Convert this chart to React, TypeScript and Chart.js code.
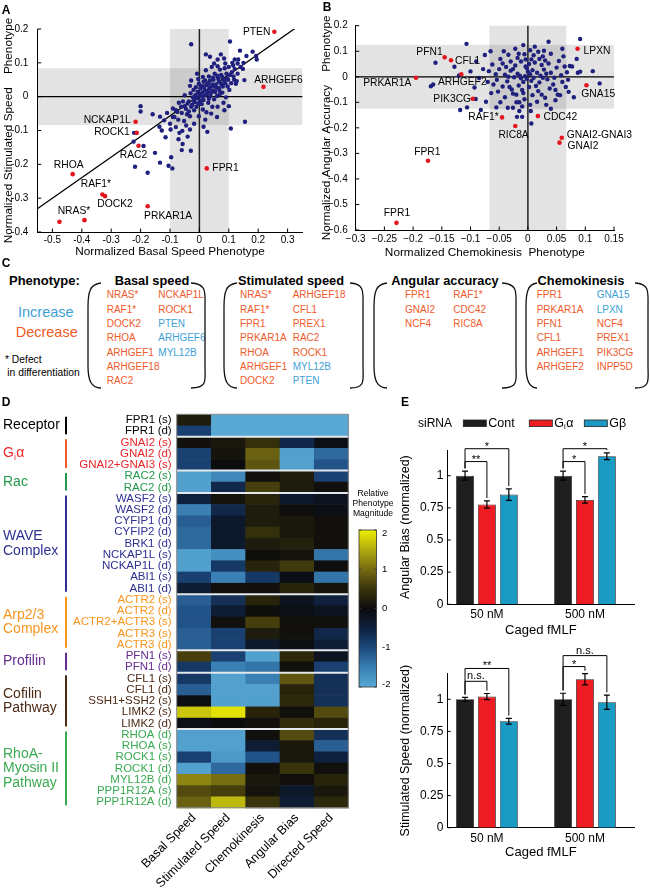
import React, { useEffect, useRef } from "react";
import { Chart, registerables } from "chart.js";

Chart.register(...registerables);
const FONT = "'Liberation Sans', Arial, Helvetica, sans-serif";
Chart.defaults.font.family = FONT;
Chart.defaults.color = "#000";

/* ====================== DATA ====================== */
// Panel A
const aXRange = [-0.55, 0.35];
const aYRange = [-0.4, 0.2];
const aXTicks = [-0.5, -0.4, -0.3, -0.2, -0.1, 0, 0.1, 0.2, 0.3];
const aYTicks = [-0.4, -0.3, -0.2, -0.1, 0, 0.1, 0.2];
const aBandX = 0.1;
const aBandY = 0.084;
const aFitSlope = 0.608;
const aFitIntercept = 0.004;
const aRedNames = ["PTEN", "ARHGEF6", "NCKAP1L", "ROCK1", "RAC2", "FPR1", "RHOA", "RAF1*", "DOCK2", "PRKAR1A", "NRAS*", ""];
const aRedX = [0.255, 0.218, -0.217, -0.213, -0.207, 0.025, -0.431, -0.33, -0.321, -0.176, -0.391, -0.476];
const aRedY = [0.192, 0.029, -0.074, -0.107, -0.145, -0.212, -0.229, -0.289, -0.294, -0.324, -0.365, -0.37];
const aBlue = [
  [0.0, 0.005], [0.01, 0.012], [-0.008, -0.004], [0.018, 0.02], [0.026, 0.008], [0.014, -0.01], [0.004, 0.024], [-0.018, -0.012], [0.008, -0.022], [0.036, 0.028],
  [0.046, 0.018], [0.03, 0.04], [0.056, 0.036], [0.048, 0.05], [0.066, 0.046], [0.078, 0.058], [0.058, 0.026], [0.038, 0.002], [0.05, -0.008], [0.068, 0.02],
  [0.088, 0.04], [0.098, 0.05], [0.08, 0.03], [0.02, 0.048], [-0.002, 0.038], [-0.012, 0.028], [-0.03, 0.01], [-0.04, -0.02], [-0.028, -0.03], [-0.018, -0.04],
  [-0.05, -0.028], [-0.06, -0.048], [-0.042, -0.052], [-0.01, -0.03], [0.012, -0.038], [0.03, -0.018], [0.06, 0.002], [0.078, 0.012], [0.092, 0.068], [0.11, 0.072],
  [0.12, 0.082], [0.1, 0.088], [0.07, 0.08], [0.052, 0.068], [0.032, 0.06], [0.012, 0.058], [-0.02, 0.02], [-0.032, 0.032], [-0.05, 0.004], [-0.07, -0.018],
  [-0.08, -0.04], [-0.09, -0.06], [-0.072, -0.068], [-0.052, -0.072], [-0.032, -0.058], [-0.002, -0.058], [0.02, -0.068], [0.04, -0.05], [0.062, -0.03], [0.082, -0.018],
  [0.102, 0.02], [0.118, 0.05], [0.13, 0.068], [0.14, 0.088], [0.112, 0.1], [0.088, 0.098], [0.062, 0.09], [0.042, 0.088], [0.022, 0.078], [-0.008, 0.068],
  [-0.028, 0.048], [0.15, 0.1], [0.132, 0.11], [0.16, 0.12], [0.086, 0.084], [0.074, 0.064], [0.064, 0.054], [0.044, 0.036], [0.034, 0.024], [0.024, 0.034],
  [0.014, 0.044], [-0.006, 0.014], [-0.016, -0.016], [-0.024, -0.024], [-0.036, -0.014], [-0.046, -0.036], [0.054, 0.014], [0.066, 0.026], [0.094, 0.054], [0.104, 0.064],
  [0.076, 0.036], [0.006, 0.032], [-0.004, 0.052], [0.016, 0.03], [0.028, 0.016], [0.04, 0.012], [0.05, 0.03], [0.06, 0.062], [0.072, 0.04], [0.084, 0.048],
  [0.002, -0.012], [-0.014, 0.004], [-0.022, -0.002], [0.01, 0.0], [0.02, 0.004], [-0.004, -0.02], [0.032, -0.006], [0.044, -0.03], [0.024, -0.046], [-0.036, -0.044],
  [-0.062, -0.03], [-0.056, -0.014], [0.096, 0.03], [0.108, 0.04], [0.116, 0.06], [0.124, 0.038], [0.07, 0.008], [0.09, -0.002], [0.046, 0.056], [0.036, 0.048],
  [-0.028, 0.155], [0.022, 0.125], [0.036, 0.118], [0.104, 0.163], [0.138, 0.136], [0.181, 0.133], [0.193, 0.12], [0.195, 0.11], [0.073, 0.125], [0.084, 0.113],
  [0.153, 0.049], [0.127, 0.046], [0.155, -0.074], [0.107, -0.094], [0.014, -0.089], [0.027, -0.104], [-0.032, -0.097], [-0.058, -0.101], [-0.068, -0.107], [-0.098, -0.097],
  [-0.2, -0.028], [-0.2, -0.044], [-0.159, -0.052], [-0.134, -0.059], [-0.136, -0.089], [-0.222, -0.107], [-0.224, -0.133], [-0.19, -0.146], [-0.151, -0.166], [-0.134, -0.195],
  [-0.219, -0.207], [-0.176, -0.225], [-0.105, -0.204], [-0.092, -0.212], [-0.096, -0.179], [-0.071, -0.126], [-0.057, -0.14], [-0.06, -0.158], [-0.029, -0.16], [-0.12, -0.07],
  [-0.11, -0.048], [-0.1, -0.08], [-0.085, -0.06], [-0.09, -0.035], [-0.075, -0.045], [-0.128, -0.1], [-0.115, -0.12], [-0.08, -0.09], [-0.045, -0.085], [-0.04, -0.118],
  [-0.018, -0.08], [0.06, -0.06], [0.085, -0.04], [0.1, -0.028], [0.05, 0.098], [0.062, 0.11], [0.115, 0.092], [0.13, 0.098], [0.148, 0.082], [0.12, 0.11],
];

// Panel B
const bXRange = [-0.3, 0.15];
const bYRange = [-0.6, 0.2];
const bXTicks = [-0.3, -0.25, -0.2, -0.15, -0.1, -0.05, 0, 0.05, 0.1, 0.15];
const bYTicks = [-0.6, -0.5, -0.4, -0.3, -0.2, -0.1, 0, 0.1, 0.2];
const bBandX = 0.067;
const bBandY = 0.125;
const bRedNames = ["LPXN", "PFN1", "CFL1", "ARHGEF2", "PRKAR1A", "PIK3CG", "GNA15", "RAF1*", "CDC42", "RIC8A", "GNAI2-GNAI3", "GNAI2", "FPR1", "FPR1"];
const bRedX = [0.0865, -0.145, -0.134, -0.116, -0.195, -0.096, 0.102, -0.045, 0.0174, -0.022, 0.059, 0.055, -0.174, -0.229];
const bRedY = [0.11, 0.076, 0.065, 0.01, -0.004, -0.086, -0.033, -0.159, -0.154, -0.193, -0.239, -0.258, -0.329, -0.572];
const bBlue = [
  [-0.005, 0.002], [0.004, 0.01], [-0.012, -0.006], [0.01, -0.004], [0.0, 0.02], [-0.018, 0.012], [0.016, 0.016], [-0.008, -0.02], [0.006, -0.016], [-0.024, -0.002],
  [0.022, 0.004], [-0.002, 0.034], [-0.03, 0.024], [0.028, 0.028], [-0.016, -0.034], [0.014, -0.036], [-0.036, -0.018], [0.034, -0.01], [0.002, 0.05], [-0.022, 0.044],
  [0.024, 0.046], [-0.04, 0.008], [0.04, 0.016], [-0.01, -0.052], [0.018, -0.056], [-0.044, -0.038], [0.044, -0.03], [-0.004, 0.068], [-0.03, 0.06], [0.03, 0.064],
  [-0.05, 0.03], [0.05, 0.036], [-0.026, -0.066], [0.008, -0.072], [-0.052, -0.058], [0.048, -0.052], [0.01, 0.084], [-0.016, 0.09], [0.026, 0.08], [-0.056, 0.01],
  [0.058, 0.006], [-0.006, -0.088], [0.03, -0.082], [-0.04, -0.08], [0.06, -0.02], [0.004, 0.104], [-0.022, 0.11], [0.018, 0.098], [-0.034, 0.086], [0.04, 0.09],
  [-0.048, 0.07], [0.054, 0.062], [-0.06, -0.03], [0.066, -0.04], [-0.02, -0.1], [0.016, -0.098], [-0.062, 0.048], [0.064, 0.04], [-0.008, 0.124], [0.012, 0.118],
  [-0.014, 0.004], [-0.002, -0.008], [0.008, 0.026], [-0.026, 0.03], [0.02, -0.022], [-0.032, -0.04], [0.036, 0.052], [-0.044, 0.052], [0.046, -0.004], [-0.054, -0.012],
  [0.002, -0.04], [-0.012, 0.06], [0.012, 0.056], [-0.02, -0.07], [0.024, -0.07], [0.032, 0.012], [-0.038, 0.038], [0.052, -0.07], [-0.064, -0.064], [0.068, 0.018],
  [-0.018, 0.074], [0.02, 0.07], [-0.028, -0.05], [0.038, -0.046], [-0.006, 0.088], [0.028, 0.102], [-0.042, 0.1], [0.062, 0.08], [-0.068, 0.022], [0.07, -0.012],
  [-0.01, -0.116], [0.032, -0.11], [-0.048, -0.1], [0.048, -0.092], [0.004, -0.11], [-0.034, 0.0], [0.026, -0.004], [-0.004, 0.04], [0.006, 0.068], [-0.008, -0.064],
  [-0.107, 0.129], [-0.161, 0.055], [-0.128, 0.039], [-0.1, 0.021], [-0.078, 0.03], [-0.093, -0.042], [-0.169, -0.037], [-0.165, -0.03], [-0.118, -0.13], [-0.106, -0.12],
  [-0.082, -0.13], [-0.073, -0.098], [-0.091, -0.087], [-0.035, -0.121], [-0.026, -0.121], [-0.015, -0.1], [-0.019, -0.157], [-0.01, -0.157], [-0.015, -0.134], [0.005, -0.134],
  [0.006, -0.183], [0.036, 0.137], [0.091, 0.148], [0.073, 0.042], [0.087, 0.016], [0.091, 0.02], [0.113, 0.022], [0.125, -0.026], [0.071, -0.059], [0.056, -0.072],
  [-0.09, 0.06], [-0.075, 0.085], [-0.085, -0.005], [-0.07, -0.02], [-0.12, 0.005], [0.08, -0.08], [0.06, 0.11], [0.085, 0.07], [-0.065, 0.1], [-0.055, -0.12],
  [0.04, -0.125], [0.077, 0.04],
];

// Panel C
const cHeaders = ["Basal speed", "Stimulated speed", "Angular accuracy", "Chemokinesis"];
const cBasal1 = ["NRAS*", "RAF1*", "DOCK2", "RHOA", "ARHGEF1", "ARHGEF18", "RAC2"];
const cBasal2 = ["NCKAP1L", "ROCK1", "PTEN", "ARHGEF6", "MYL12B"];
const cStim1 = ["NRAS*", "RAF1*", "FPR1", "PRKAR1A", "RHOA", "ARHGEF1", "DOCK2"];
const cStim2 = ["ARHGEF18", "CFL1", "PREX1", "RAC2", "ROCK1", "MYL12B", "PTEN"];
const cAng1 = ["FPR1", "GNAI2", "NCF4"];
const cAng2 = ["RAF1*", "CDC42", "RIC8A"];
const cChemo1 = ["FPR1", "PRKAR1A", "PFN1", "CFL1", "ARHGEF1", "ARHGEF2"];
const cChemo2 = ["GNA15", "LPXN", "NCF4", "PREX1", "PIK3CG", "INPP5D"];
const cBasalUp = ["PTEN", "ARHGEF6", "MYL12B"];
const cStimUp = ["MYL12B", "PTEN"];
const cAngUp: string[] = [];
const cChemoUp = ["GNA15", "LPXN"];

// Panel D
const heatCols = ["Basal Speed", "Stimulated Speed", "Chemokinesis", "Angular Bias", "Directed Speed"];
const heatRows = ["FPR1 (s)", "FPR1 (d)", "GNAI2 (s)", "GNAI2 (d)", "GNAI2+GNAI3 (s)", "RAC2 (s)", "RAC2 (d)", "WASF2 (s)", "WASF2 (d)", "CYFIP1 (d)", "CYFIP2 (d)", "BRK1 (d)", "NCKAP1L (s)", "NCKAP1L (d)", "ABI1 (s)", "ABI1 (d)", "ACTR2 (s)", "ACTR2 (d)", "ACTR2+ACTR3 (s)", "ACTR3 (s)", "ACTR3 (d)", "PFN1 (s)", "PFN1 (d)", "CFL1 (s)", "CFL1 (d)", "SSH1+SSH2 (s)", "LIMK2 (s)", "LIMK2 (d)", "RHOA (d)", "RHOA (s)", "ROCK1 (s)", "ROCK1 (d)", "MYL12B (d)", "PPP1R12A (s)", "PPP1R12A (d)"];
const heatBasal = [0.2, -0.9, 0.05, -0.9, -0.9, -1.9, -1.9, -0.5, -1.5, -1.2, -1.3, -1.3, -1.9, -1.9, -0.9, -0.4, -1.2, -1.1, -1.1, -1.2, -1.2, 0.6, -0.8, -0.8, -1.2, -0.05, 1.7, -0.1, -1.9, -1.9, -0.9, -1.9, 1.2, 0.7, 0.9];
const heatStim = [-2, -2, 0.15, 0.1, 0, -1.6, -0.6, 0.1, -0.6, -0.3, -0.3, -0.3, -1.7, -0.8, -1.5, 0.05, -0.7, -0.4, 0.05, -0.9, -0.9, -0.9, -1.5, -1.9, -1.9, -1.9, 1.9, 0, -1.9, -1.9, -1.8, -1.3, 1.0, 0.6, 1.6];
const heatChemo = [-2, -2, 0.45, 0.9, 0.8, 0.05, 0.6, 0.3, 0.2, 0.2, 0.45, 0.2, 0.02, 0.3, -0.8, 0.05, 0.3, 0.02, 0.6, 0.2, -0.3, -1.9, -1.4, -1.5, -1.9, -1.9, 0.3, 0.05, 0.05, -0.4, -1.1, 0.05, 0.15, 0.1, 0.5];
const heatAngular = [-2, -2, -0.6, -1.9, -1.9, 0.2, 0.2, -0.3, 0.02, 0.15, 0.15, 0.25, 0.1, 0.55, -0.1, 0.3, -0.2, -0.1, 0.05, 0.05, -0.05, 0.35, 0.05, 0.8, 0.3, 0.35, 0.05, 0.4, 0.7, 0.15, 0.15, 0.5, 0.05, -0.3, -0.4];
const heatDirected = [-2, -2, -0.1, -1.3, -1.1, -0.9, 0.05, -0.2, -0.1, 0.05, 0.05, 0.05, -1.4, 0.02, -1.4, 0.1, -0.5, -0.2, 0.05, -0.6, -0.4, -0.2, -0.9, -0.7, -0.7, -0.7, 0.7, 0.3, -0.7, -1.2, -0.5, 0.05, 0.3, 0.15, 0.35];
const heatGroupNames = [["Receptor"], ["Gᵢα"], ["Rac"], ["WAVE", "Complex"], ["Arp2/3", "Complex"], ["Profilin"], ["Cofilin", "Pathway"], ["RhoA-", "Myosin II", "Pathway"]];
const heatGroupSizes = [2, 3, 2, 9, 5, 2, 5, 7];
const colorbarTicks = [2, 1, 0, -1, -2];
const colorbarTitle = ["Relative", "Phenotype", "Magnitude"];

// Panel E
const eConcLabels = ["50 nM", "500 nM"];
const eSeriesNames = ["Cont", "Gᵢα", "Gβ"];
const eYTicks = [0, 0.25, 0.5, 0.75, 1];
const eTopCont = [1.0, 1.0];
const eTopGa = [0.776, 0.812];
const eTopGb = [0.853, 1.151];
const eTopContErr = [0.035, 0.035];
const eTopGaErr = [0.028, 0.025];
const eTopGbErr = [0.045, 0.026];
const eBotCont = [1.0, 1.0];
const eBotGa = [1.021, 1.156];
const eBotGb = [0.829, 0.977];
const eBotContErr = [0.015, 0.047];
const eBotGaErr = [0.024, 0.044];
const eBotGbErr = [0.022, 0.055];
const eTopSig = [
  { group: 0, to: 1, level: 1.11, text: "**" },
  { group: 0, to: 2, level: 1.21, text: "*" },
  { group: 1, to: 1, level: 1.11, text: "*" },
  { group: 1, to: 2, level: 1.21, text: "*" },
];
const eBotSig = [
  { group: 0, to: 1, level: 1.14, text: "n.s." },
  { group: 0, to: 2, level: 1.24, text: "**" },
  { group: 1, to: 1, level: 1.255, text: "*" },
  { group: 1, to: 2, level: 1.34, text: "n.s." },
];

/* ====================== STYLE / LAYOUT ====================== */
const NAVY = "#1f1f7d";
const RED = "#e3161d";
const ORANGE = "#ef5a2b";
const LBLUE = "#3d9fd6";
const E_COLORS = ["#1e1e1e", "#ee1d23", "#1b9ac4"];
const GROUP_TEXT = ["#000000", "#e8262a", "#23984a", "#2e3192", "#f7941d", "#662d91", "#4b2a16", "#3aaa52"];
const GROUP_BAR = ["#000000", "#f05a28", "#23984a", "#2e3192", "#f7941d", "#662d91", "#4b2a16", "#3aaa52"];
const aLabelOffsets = [[-4, 0, "right"], [15, -7, "center"], [-5, -2, "right"], [-7, -1, "right"], [-5, 9.5, "center"], [5.6, 0, "left"], [-4, -9, "center"], [-6.5, -10, "center"], [10, 8.5, "center"], [20.5, 9.5, "center"], [-10.5, -9, "center"], [0, 0, "left"]];
const bLabelOffsets = [[6, 2, "left"], [-2, -5, "right"], [4, 1, "left"], [1, 7.7, "center"], [-4.7, 5.7, "right"], [-1.7, 0, "right"], [11.8, 9.3, "center"], [-3.4, 0, "right"], [5.6, 0.7, "left"], [-1.7, 9, "center"], [5, -2.7, "left"], [8, 3.3, "left"], [-0.7, -9, "center"], [0.5, -10, "center"]];
const CMAP_STOPS = [[-2, 88, 168, 212], [-1.5, 58, 128, 180], [-1, 28, 72, 125], [-0.5, 14, 32, 62], [0, 12, 12, 12], [0.5, 58, 52, 12], [1, 118, 108, 18], [1.5, 178, 172, 18], [2, 238, 238, 0]];

function cmap(v: number) {
  const t = Math.max(-2, Math.min(2, v));
  for (let i = 0; i < CMAP_STOPS.length - 1; i++) {
    const a = CMAP_STOPS[i], b = CMAP_STOPS[i + 1];
    if (t >= a[0] && t <= b[0]) {
      const f = (t - a[0]) / (b[0] - a[0]);
      const c = [1, 2, 3].map((k) => Math.round(a[k] + (b[k] - a[k]) * f));
      return `rgb(${c[0]},${c[1]},${c[2]})`;
    }
  }
  return "#000";
}

function fmtTick(v: number, minus: boolean) {
  if (Math.abs(v) < 1e-9) return "0";
  const s = String(+v.toFixed(3));
  return minus ? s.replace("-", "\u2212") : s;
}

function drawRich(ctx: any, text: string, x: number, y: number, size: number, color: string) {
  ctx.save();
  ctx.fillStyle = color;
  ctx.textBaseline = "middle";
  ctx.textAlign = "left";
  const parts = text.split("ᵢ");
  let cx = x;
  parts.forEach((p, i) => {
    if (i > 0) {
      ctx.font = `${size * 0.62}px ${FONT}`;
      ctx.fillText("i", cx, y + size * 0.3);
      cx += ctx.measureText("i").width + 0.5;
    }
    ctx.font = `${size}px ${FONT}`;
    ctx.fillText(p, cx, y);
    cx += ctx.measureText(p).width;
  });
  ctx.restore();
}

const baseOpts = {
  animation: false,
  responsive: false,
  maintainAspectRatio: false,
  devicePixelRatio: 1,
  events: [],
  plugins: { legend: { display: false }, tooltip: { enabled: false } },
};

/* ====================== PLUGINS ====================== */
function bandsPlugin(bx: number, by: number) {
  return {
    id: "bands",
    beforeDatasetsDraw(chart: any) {
      const { ctx, chartArea: a, scales: { x, y } } = chart;
      ctx.save();
      ctx.fillStyle = "rgba(0,0,0,0.11)";
      const x0 = x.getPixelForValue(-bx), x1 = x.getPixelForValue(bx);
      ctx.fillRect(x0, a.top, x1 - x0, a.bottom - a.top);
      const y0 = y.getPixelForValue(by), y1 = y.getPixelForValue(-by);
      ctx.fillRect(a.left, y0, a.right - a.left, y1 - y0);
      const zx = x.getPixelForValue(0), zy = y.getPixelForValue(0);
      ctx.strokeStyle = "#222";
      ctx.lineWidth = 1.5;
      ctx.beginPath();
      ctx.moveTo(zx, a.top); ctx.lineTo(zx, a.bottom);
      ctx.stroke();
      ctx.strokeStyle = "#000";
      ctx.lineWidth = 1.2;
      ctx.beginPath();
      ctx.moveTo(a.left, zy); ctx.lineTo(a.right, zy);
      ctx.stroke();
      ctx.restore();
    },
  };
}

function inwardTicks(doX: boolean, doY: boolean, len = 3.5) {
  return {
    id: "inwardTicks",
    afterDraw(chart: any) {
      const { ctx, chartArea: a, scales: { x, y } } = chart;
      ctx.save();
      ctx.strokeStyle = "#000";
      ctx.lineWidth = 1;
      ctx.beginPath();
      if (doX) x.ticks.forEach((t: any) => { const p = x.getPixelForValue(t.value); ctx.moveTo(p, a.bottom); ctx.lineTo(p, a.bottom - len); });
      if (doY) y.ticks.forEach((t: any) => { const p = y.getPixelForValue(t.value); ctx.moveTo(a.left, p); ctx.lineTo(a.left + len, p); });
      ctx.stroke();
      ctx.restore();
    },
  };
}

function pointLabels(names: string[], offsets: any[], size: number) {
  return {
    id: "pointLabels",
    afterDatasetsDraw(chart: any) {
      const { ctx } = chart;
      const meta = chart.getDatasetMeta(0);
      ctx.save();
      ctx.font = `${size}px ${FONT}`;
      ctx.fillStyle = "#000";
      ctx.textBaseline = "middle";
      names.forEach((n, i) => {
        if (!n) return;
        const el = meta.data[i];
        const [dx, dy, al] = offsets[i];
        ctx.textAlign = al;
        ctx.fillText(n, el.x + dx, el.y + dy);
      });
      ctx.restore();
    },
  };
}

function scatterConfig(o: any) {
  const fitPts = [o.xRange[0], o.xRange[1]].map((x) => ({ x, y: o.fit ? o.fit[0] * x + o.fit[1] : 0 }));
  const datasets: any[] = [
    { data: o.redX.map((x: number, i: number) => ({ x, y: o.redY[i] })), backgroundColor: RED, borderWidth: 0, pointRadius: 2.3, order: 0 },
    { data: o.blue.map(([x, y]: number[]) => ({ x, y })), backgroundColor: NAVY, borderWidth: 0, pointRadius: 2.2, order: 1 },
  ];
  if (o.fit) datasets.push({ data: fitPts, showLine: true, borderColor: "#000", borderWidth: 1.3, pointRadius: 0, order: 2 });
  return {
    type: "scatter",
    data: { datasets },
    options: {
      ...baseOpts,
      layout: { padding: o.padding },
      scales: {
        x: {
          type: "linear", min: o.xRange[0], max: o.xRange[1],
          afterFit: (s: any) => { s.height = o.xAxisH; },
          afterBuildTicks: (s: any) => { s.ticks = o.xTicks.map((v: number) => ({ value: v })); },
          grid: { display: false, drawTicks: false },
          border: { display: true, color: "#000", width: 1 },
          ticks: { font: { size: 10 }, color: "#000", padding: o.xTickPad, minRotation: 0, maxRotation: 0, autoSkip: false, callback: (v: number) => fmtTick(v, o.minus) },
          title: { display: true, text: o.xTitle, font: { size: 11.8 }, color: "#000", padding: { top: 0, bottom: o.xTitlePad } },
        },
        y: {
          type: "linear", min: o.yRange[0], max: o.yRange[1],
          afterFit: (s: any) => { s.width = o.yAxisW; },
          afterBuildTicks: (s: any) => { s.ticks = o.yTicks.map((v: number) => ({ value: v })); },
          grid: { display: false, drawTicks: false },
          border: { display: true, color: "#000", width: 1 },
          ticks: { font: { size: 10 }, color: "#000", padding: o.yTickPad, autoSkip: false, callback: (v: number) => fmtTick(v, o.minus) },
          title: { display: true, text: o.yTitle, font: { size: 11.8 }, color: "#000", padding: { top: o.yTitlePad, bottom: 0 } },
        },
      },
    },
    plugins: [bandsPlugin(o.band[0], o.band[1]), pointLabels(o.names, o.offsets, 10.3), inwardTicks(true, true)],
  };
}

function buildA() {
  return scatterConfig({
    xRange: aXRange, yRange: aYRange, xTicks: aXTicks, yTicks: aYTicks, redX: aRedX, redY: aRedY, blue: aBlue,
    fit: [aFitSlope, aFitIntercept], band: [aBandX, aBandY], names: aRedNames, offsets: aLabelOffsets, minus: false,
    padding: { left: 0, top: 29, right: 17.7, bottom: 0 }, xAxisH: 33, yAxisW: 37.7, xTickPad: 2, yTickPad: 9.4,
    xTitle: "Normalized Basal Speed Phenotype", yTitle: "Normalized Stimulated Speed    Phenotype", xTitlePad: 6.2, yTitlePad: 1.9,
  });
}

function buildB() {
  return scatterConfig({
    xRange: bXRange, yRange: bYRange, xTicks: bXTicks, yTicks: bYTicks, redX: bRedX, redY: bRedY, blue: bBlue,
    fit: null, band: [bBandX, bBandY], names: bRedNames, offsets: bLabelOffsets, minus: true,
    padding: { left: 0, top: 25.7, right: 36, bottom: 0 }, xAxisH: 35, yAxisW: 35.7, xTickPad: 3.3, yTickPad: 8,
    xTitle: "Normalized Chemokinesis  Phenotype", yTitle: "Normalized Angular Accuracy    Phenotype", xTitlePad: 5.6, yTitlePad: 0,
  });
}

/* ---------- Panel D heatmap ---------- */
function groupOfRow(r: number) {
  let acc = 0;
  for (let g = 0; g < heatGroupSizes.length; g++) {
    acc += heatGroupSizes[g];
    if (r < acc) return g;
  }
  return heatGroupSizes.length - 1;
}

const heatPlugin = {
  id: "heat",
  beforeDatasetsDraw(chart: any) {
    const { ctx, chartArea: a, scales: { x, y } } = chart;
    const cols = [heatBasal, heatStim, heatChemo, heatAngular, heatDirected];
    ctx.save();
    cols.forEach((col, c) => {
      col.forEach((v, r) => {
        const x0 = x.getPixelForValue(c - 0.5), x1 = x.getPixelForValue(c + 0.5);
        const y0 = y.getPixelForValue(r - 0.5), y1 = y.getPixelForValue(r + 0.5);
        ctx.fillStyle = cmap(v);
        ctx.fillRect(Math.min(x0, x1), Math.min(y0, y1), Math.abs(x1 - x0) + 0.6, Math.abs(y1 - y0) + 0.6);
      });
    });
    ctx.strokeStyle = "#e4e8ec";
    ctx.lineWidth = 2;
    let acc = 0;
    heatGroupSizes.slice(0, -1).forEach((n) => {
      acc += n;
      const py = y.getPixelForValue(acc - 0.5);
      ctx.beginPath(); ctx.moveTo(a.left, py); ctx.lineTo(a.right, py); ctx.stroke();
    });
    ctx.strokeStyle = "#8a8a8a";
    ctx.lineWidth = 1;
    ctx.strokeRect(a.left, a.top, a.right - a.left, a.bottom - a.top);
    ctx.restore();
  },
  afterDraw(chart: any) {
    const { ctx, scales: { y } } = chart;
    let start = 0;
    heatGroupSizes.forEach((n, g) => {
      const top = y.getPixelForValue(start - 0.5) + 2.5;
      const bot = y.getPixelForValue(start + n - 0.5) - 2.5;
      ctx.save();
      ctx.strokeStyle = GROUP_BAR[g];
      ctx.lineWidth = 2;
      ctx.beginPath(); ctx.moveTo(66, top); ctx.lineTo(66, bot); ctx.stroke();
      ctx.restore();
      const lines = heatGroupNames[g];
      const lh = 14.5;
      const mid = (top + bot) / 2;
      lines.forEach((t, i) => {
        drawRich(ctx, t, 3, mid + (i - (lines.length - 1) / 2) * lh, 14, GROUP_TEXT[g]);
      });
      start += n;
    });
    const cbL = 359, cbR = 376.5, cbT = 135, cbB = 292;
    const grad = ctx.createLinearGradient(0, cbB, 0, cbT);
    CMAP_STOPS.forEach((s) => grad.addColorStop((s[0] + 2) / 4, `rgb(${s[1]},${s[2]},${s[3]})`));
    ctx.save();
    ctx.fillStyle = grad;
    ctx.fillRect(cbL, cbT, cbR - cbL, cbB - cbT);
    ctx.strokeStyle = "#333";
    ctx.lineWidth = 0.8;
    ctx.strokeRect(cbL, cbT, cbR - cbL, cbB - cbT);
    ctx.font = `9.5px ${FONT}`;
    ctx.fillStyle = "#000";
    ctx.textBaseline = "middle";
    ctx.textAlign = "left";
    colorbarTicks.forEach((v) => {
      const py = cbB - ((v + 2) / 4) * (cbB - cbT);
      ctx.beginPath();
      ctx.moveTo(cbL, py); ctx.lineTo(cbL + 2.5, py);
      ctx.moveTo(cbR, py); ctx.lineTo(cbR - 2.5, py);
      ctx.stroke();
      ctx.fillText(fmtTick(v, false), 382, py + (v === 2 ? 3 : v === -2 ? -3 : 0));
    });
    ctx.font = `8.6px ${FONT}`;
    ctx.textAlign = "center";
    colorbarTitle.forEach((t, i) => ctx.fillText(t, 373, 99 + i * 10));
    ctx.restore();
  },
};

function buildD() {
  return {
    type: "scatter",
    data: { datasets: [{ data: [], pointRadius: 0 }] },
    options: {
      ...baseOpts,
      layout: { padding: { left: 0, top: 19.3, right: 51.7, bottom: 0 } },
      scales: {
        x: {
          type: "category", labels: heatCols, offset: true,
          afterFit: (s: any) => { s.height = 83.3; },
          grid: { display: false, drawTicks: false }, border: { display: false },
          ticks: { autoSkip: false, minRotation: 45, maxRotation: 45, font: { size: 12.5 }, color: "#000", padding: 3 },
        },
        y: {
          type: "category", labels: heatRows, offset: true,
          afterFit: (s: any) => { s.width = 176.7; },
          grid: { display: false, drawTicks: false }, border: { display: false },
          ticks: { autoSkip: false, font: { size: 11.5 }, padding: 5, color: (c: any) => GROUP_TEXT[groupOfRow(c.index)] },
        },
      },
    },
    plugins: [heatPlugin],
  };
}

/* ---------- Panel E ---------- */
function errorBarsPlugin(values: number[][], errs: number[][]) {
  return {
    id: "errorBars",
    afterDatasetsDraw(chart: any) {
      const { ctx, scales: { y } } = chart;
      ctx.save();
      ctx.strokeStyle = "#000";
      ctx.lineWidth = 1.2;
      values.forEach((vals, i) => {
        const meta = chart.getDatasetMeta(i);
        vals.forEach((v, j) => {
          const bx = meta.data[j].x;
          const y0 = y.getPixelForValue(v - errs[i][j]), y1 = y.getPixelForValue(v + errs[i][j]);
          ctx.beginPath();
          ctx.moveTo(bx, y0); ctx.lineTo(bx, y1);
          ctx.moveTo(bx - 3, y0); ctx.lineTo(bx + 3, y0);
          ctx.moveTo(bx - 3, y1); ctx.lineTo(bx + 3, y1);
          ctx.stroke();
        });
      });
      ctx.restore();
    },
  };
}

function bracketsPlugin(sig: any[], values: number[][], errs: number[][]) {
  const GAP = 0.022;
  return {
    id: "brackets",
    afterDatasetsDraw(chart: any) {
      const { ctx, scales: { y } } = chart;
      ctx.save();
      ctx.strokeStyle = "#000";
      ctx.lineWidth = 1;
      ctx.fillStyle = "#000";
      ctx.textAlign = "center";
      ctx.textBaseline = "alphabetic";
      ctx.font = `11px ${FONT}`;
      sig.forEach((s) => {
        const a = chart.getDatasetMeta(0).data[s.group], b = chart.getDatasetMeta(s.to).data[s.group];
        const yl = y.getPixelForValue(s.level);
        const ya = y.getPixelForValue(values[0][s.group] + errs[0][s.group] + GAP);
        const yb = y.getPixelForValue(values[s.to][s.group] + errs[s.to][s.group] + GAP);
        ctx.beginPath();
        ctx.moveTo(a.x, ya); ctx.lineTo(a.x, yl); ctx.lineTo(b.x, yl); ctx.lineTo(b.x, yb);
        ctx.stroke();
        ctx.fillText(s.text, (a.x + b.x) / 2, yl + (s.text.includes("*") ? 1 : -2));
      });
      ctx.restore();
    },
  };
}

const eLegendPlugin = {
  id: "eLegend",
  afterDraw(chart: any) {
    const { ctx } = chart;
    const yc = 18.3;
    const boxX = [83.3, 149.3, 204.3];
    ctx.save();
    ctx.font = `12px ${FONT}`;
    ctx.fillStyle = "#000";
    ctx.textBaseline = "middle";
    ctx.textAlign = "left";
    ctx.fillText("siRNA", 38, yc);
    eSeriesNames.forEach((n, i) => {
      ctx.fillStyle = E_COLORS[i];
      ctx.fillRect(boxX[i], yc - 3.3, 23, 6.6);
      ctx.strokeStyle = "#222";
      ctx.lineWidth = 0.8;
      ctx.strokeRect(boxX[i], yc - 3.3, 23, 6.6);
      drawRich(ctx, n, boxX[i] + 25, yc, 12.5, "#000");
    });
    ctx.restore();
  },
};

function barConfig(o: any) {
  return {
    type: "bar",
    data: {
      datasets: eSeriesNames.map((name, i) => ({
        label: name,
        data: o.values[i].map((v: number, j: number) => ({ x: j + 1, y: v })),
        backgroundColor: E_COLORS[i],
        borderColor: "#2a2a2a",
        borderWidth: 0.8,
        borderSkipped: "bottom",
        categoryPercentage: 0.67,
        barPercentage: 0.82,
      })),
    },
    options: {
      ...baseOpts,
      layout: { padding: { left: 0, top: o.top, right: 16, bottom: 0 } },
      scales: {
        x: {
          type: "linear", min: 0.6, max: 2.5, offset: false,
          afterFit: (s: any) => { s.height = o.xAxisH; },
          afterBuildTicks: (s: any) => { s.ticks = eConcLabels.map((_, j) => ({ value: j + 1 })); },
          grid: { display: false, drawTicks: false },
          border: { display: true, color: "#000", width: 1 },
          ticks: { font: { size: 12 }, color: "#000", padding: o.xTickPad, minRotation: 0, maxRotation: 0, autoSkip: false, callback: (v: number) => eConcLabels[Math.round(v) - 1] },
          title: { display: true, text: "Caged fMLF", font: { size: 13 }, color: "#000", padding: { top: 0, bottom: o.xTitlePad } },
        },
        y: {
          type: "linear", min: 0, max: 1.2,
          afterFit: (s: any) => { s.width = 67.7; },
          afterBuildTicks: (s: any) => { s.ticks = eYTicks.map((v) => ({ value: v })); },
          grid: { display: false, drawTicks: false },
          border: { display: true, color: "#000", width: 1 },
          ticks: { font: { size: 12 }, color: "#000", padding: 4.4, autoSkip: false, callback: (v: number) => fmtTick(v, false) },
          title: { display: true, text: o.yTitle, font: { size: 12.5 }, color: "#000", padding: { top: 18.3, bottom: 0 } },
        },
      },
    },
    plugins: [errorBarsPlugin(o.values, o.errs), bracketsPlugin(o.sig, o.values, o.errs), inwardTicks(false, true, 3)].concat(o.legend ? [eLegendPlugin] : []),
  };
}

function buildETop() {
  return barConfig({
    values: [eTopCont, eTopGa, eTopGb], errs: [eTopContErr, eTopGaErr, eTopGbErr], sig: eTopSig,
    top: 45, xAxisH: 40.7, xTickPad: 3.5, xTitlePad: 7.2, yTitle: "Angular Bias (normalized)", legend: true,
  });
}

function buildEBot() {
  return barConfig({
    values: [eBotCont, eBotGa, eBotGb], errs: [eBotContErr, eBotGaErr, eBotGbErr], sig: eBotSig,
    top: 37.6, xAxisH: 38.3, xTickPad: 4.1, xTitlePad: 5.9, yTitle: "Stimulated Speed (normalized)", legend: false,
  });
}

/* ====================== COMPONENTS ====================== */
function ChartBox({ x, y, w, h, build }: any) {
  const ref = useRef<HTMLCanvasElement>(null);
  useEffect(() => {
    const chart = new Chart(ref.current as any, build());
    return () => chart.destroy();
  }, []);
  return <canvas ref={ref} width={w} height={h} style={{ position: "absolute", left: x, top: y, width: w, height: h }} />;
}

function Txt({ x, y, size, color = "#000", bold = false, align = "left", children }: any) {
  const style: any = {
    position: "absolute", top: y - size * 0.6, fontSize: size, lineHeight: `${size * 1.2}px`,
    color, fontWeight: bold ? "bold" : "normal", whiteSpace: "nowrap",
  };
  if (align === "center") { style.left = x; style.transform = "translateX(-50%)"; }
  else style.left = x;
  return <div style={style}>{children}</div>;
}

function parenPath(xo: number, xe: number, top: number, bot: number) {
  return `M ${xe} ${top} C ${xo + 2} ${top + 1}, ${xo} ${top + 9}, ${xo} ${top + 24} L ${xo} ${bot - 22} C ${xo} ${bot - 8}, ${xo + 3} ${bot}, ${xe} ${bot}`;
}

function PanelC() {
  const tables = [[cBasal1, cBasal2, cBasalUp], [cStim1, cStim2, cStimUp], [cAng1, cAng2, cAngUp], [cChemo1, cChemo2, cChemoUp]];
  const headerX = [152, 291, 445, 581];
  const colX = [[106.7, 158.3], [240, 292.7], [405, 453.3], [536.7, 596.7]];
  const parens = [[88, 205, 101, 191], [224, 363, 237, 350], [374, 516, 387, 502], [526, 648, 537, 635]];
  const rowY0 = 295.3, rowStep = 14.3;
  return (
    <>
      <Txt x={9} y={281} size={13} bold>Phenotype:</Txt>
      <Txt x={18} y={312.3} size={14.5} color={LBLUE}>Increase</Txt>
      <Txt x={15.7} y={332.3} size={14.5} color={ORANGE}>Decrease</Txt>
      <Txt x={5} y={360} size={10.3}>* Defect</Txt>
      <Txt x={7.3} y={373.3} size={10.3}>in differentiation</Txt>
      {cHeaders.map((h, i) => (
        <Txt key={h} x={headerX[i]} y={281} size={12.8} bold align="center">{h}</Txt>
      ))}
      {tables.map(([c1, c2, up]: any, t) =>
        [c1, c2].map((col: string[], ci) =>
          col.map((g, r) => (
            <Txt key={`${t}-${ci}-${r}`} x={colX[t][ci]} y={rowY0 + r * rowStep} size={10} color={up.includes(g) ? LBLUE : ORANGE}>{g}</Txt>
          ))
        )
      )}
      <svg width={650} height={891} style={{ position: "absolute", left: 0, top: 0, pointerEvents: "none" }}>
        {parens.map(([l, r, le, re], i) => (
          <g key={i} fill="none" stroke="#111" strokeWidth={1.3}>
            <path d={parenPath(l, le, 283, 388)} />
            <path d={parenPath(r, re, 283, 388)} />
          </g>
        ))}
      </svg>
    </>
  );
}

export default function App() {
  return (
    <div style={{ position: "absolute", left: 0, top: 0, width: 650, height: 891, background: "#fff", overflow: "hidden", fontFamily: FONT, color: "#000" }}>
      <ChartBox x={0} y={0} w={320} h={265} build={buildA} />
      <ChartBox x={320} y={0} w={330} h={265} build={buildB} />
      <ChartBox x={0} y={395} w={400} h={496} build={buildD} />
      <ChartBox x={380} y={405} w={270} h={240} build={buildETop} />
      <ChartBox x={380} y={636} w={270} h={230} build={buildEBot} />
      <PanelC />
      <Txt x={1.7} y={10} size={12} bold>A</Txt>
      <Txt x={322.7} y={7.5} size={12} bold>B</Txt>
      <Txt x={1.7} y={263} size={12} bold>C</Txt>
      <Txt x={1.7} y={401.7} size={12} bold>D</Txt>
      <Txt x={401} y={402} size={12} bold>E</Txt>
    </div>
  );
}
